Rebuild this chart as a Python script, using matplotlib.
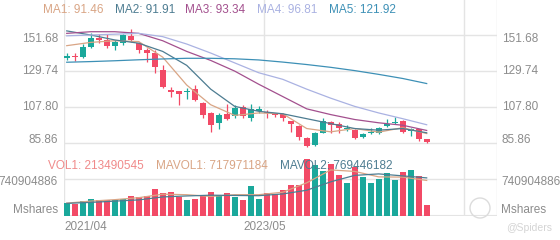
import matplotlib
matplotlib.use('Agg')
import matplotlib.pyplot as plt
import matplotlib.transforms as mtransforms
from matplotlib.patches import Ellipse
import numpy as np

plt.rcParams['font.family'] = ['Liberation Sans', 'DejaVu Sans']

# monthly candles 2021/04 .. 2025/01
opens = [137.5, 138.3, 138.3, 144.4, 149.4, 148.6, 145.0, 146.4, 150.9, 146.4,
         142.3, 140.3, 130.1, 118.0, 117.4, 116.5, 118.6, 110.2, 103.7, 97.6,
         103.1, 102.3, 107.8, 101.1, 105.4, 104.6, 103.7, 103.1, 99.1, 96.0,
         88.5, 84.2, 92.0, 98.3, 97.2, 94.2, 93.6, 89.1, 91.5, 91.5,
         96.2, 97.6, 99.3, 93.2, 94.0, 87.9]
highs = [140.3, 140.3, 145.8, 152.5, 151.9, 151.9, 148.4, 151.9, 155.1, 147.4,
         143.4, 142.3, 133.2, 120.0, 117.6, 119.4, 121.0, 110.4, 104.3, 103.7,
         109.2, 108.8, 108.8, 109.3, 108.2, 105.8, 104.1, 103.7, 99.3, 96.4,
         89.1, 92.6, 100.7, 99.3, 98.3, 96.6, 94.0, 91.5, 94.6, 95.2,
         100.1, 101.3, 99.7, 94.6, 94.4, 88.3]
lows = [136.2, 135.8, 137.7, 143.8, 146.4, 143.8, 142.3, 145.4, 147.4, 140.3,
        134.8, 128.1, 119.0, 113.9, 108.8, 112.5, 111.3, 101.1, 92.2, 94.2,
        99.7, 101.1, 101.1, 99.3, 104.1, 100.7, 101.3, 99.3, 92.6, 87.5,
        83.4, 83.8, 91.6, 92.0, 92.0, 93.2, 88.1, 88.5, 91.1, 90.9,
        95.6, 97.4, 91.5, 89.9, 87.1, 85.9]
closes = [138.7, 138.1, 144.4, 149.9, 148.6, 145.0, 147.4, 151.5, 148.4, 142.3,
          140.3, 132.2, 120.0, 117.0, 115.3, 117.4, 111.9, 102.7, 96.6, 102.7,
          100.1, 107.2, 102.3, 106.2, 106.2, 103.7, 102.9, 100.7, 97.0, 89.5,
          83.8, 92.0, 99.3, 96.8, 94.6, 95.0, 88.5, 90.9, 92.6, 94.6,
          97.0, 98.1, 92.6, 94.0, 87.9, 86.3]
# volume in millions of shares
volumes = [257, 243, 310, 350, 324, 324, 324, 338, 404, 390,
           404, 539, 471, 485, 390, 324, 338, 404, 485, 431,
           458, 390, 324, 606, 350, 471, 444, 525, 633, 633,
           1145, 1037, 902, 1050, 835, 660, 984, 781, 660, 754,
           862, 727, 889, 929, 808, 213.490545]

# moving average lines, read every third candle
ma_idx = [0, 3, 6, 9, 12, 15, 18, 21, 24, 27, 30, 33, 36, 39, 42, 45]
ma1 = [145.0, 147.0, 148.0, 147.5, 138.0, 121.0, 109.0, 102.5, 104.0, 103.5,
       94.5, 92.5, 94.5, 92.3, 95.0, 91.46]
ma2 = [154.0, 151.5, 148.5, 146.5, 141.5, 133.0, 118.5, 108.0, 105.0, 103.5,
       100.5, 97.5, 94.5, 93.5, 94.5, 91.91]
ma3 = [152.5, 153.5, 153.5, 152.5, 148.0, 141.5, 136.0, 129.5, 121.5, 114.0,
       106.5, 103.0, 100.0, 98.0, 96.5, 93.34]
ma4 = [151.0, 151.5, 152.0, 152.5, 150.5, 146.0, 140.5, 134.5, 128.5, 124.5,
       118.5, 113.0, 108.0, 104.0, 100.5, 96.81]
ma5 = [134.9, 135.3, 135.8, 136.4, 136.9, 137.3, 137.3, 137.0, 136.3, 135.0,
       133.5, 131.8, 129.8, 127.5, 125.0, 121.92]
mavol1 = [260, 300, 330, 370, 440, 430, 395, 430, 430, 480,
          670, 930, 900, 790, 785, 717.971184]
mavol2 = [255, 275, 300, 325, 385, 405, 420, 415, 410, 445,
          520, 690, 820, 850, 810, 769.446182]

price_ticks = [151.68, 129.74, 107.80, 85.86]
vol_tick = 740.904886
date_labels = ['2021/04', '2023/05']
date_idx = [0, 25, 50]

UP = '#1aa89b'
DOWN = '#f24a66'
C_MA = ['#d9a585', '#4d7c91', '#a3508e', '#aab2e2', '#3d90b6']
GRID = '#e4e4e4'
TXT = '#8c8c8c'

W, H = 560, 240
fig = plt.figure(figsize=(W / 100, H / 100), dpi=100)


def box(l, t, r, b):
    return [l / W, 1 - b / H, (r - l) / W, (b - t) / H]


ax = fig.add_axes(box(64, 0, 497, 155))
axv = fig.add_axes(box(64, 155, 497, 216))
x = np.arange(len(closes))
xlim = (-0.34, 53.79)

for a in (ax, axv):
    a.set_xlim(*xlim)
    a.set_xticks([])
    a.set_yticks([])
    for s in a.spines.values():
        s.set_visible(False)
    for d in date_idx:
        a.axvline(d - 0.34, color=GRID, lw=1, zorder=0)
    a.axvline(xlim[1] - 0.05, color=GRID, lw=1, zorder=0)
    a.patch.set_alpha(0)

ax.set_ylim(78.37, 172.83)
axv.set_ylim(0, 1231.5)

for p in price_ticks:
    ax.axhline(p, color=GRID, lw=1, zorder=0)
axv.axhline(vol_tick, color=GRID, lw=1, zorder=0)
axv.axhline(0, color=GRID, lw=1.5, zorder=0)

o = np.array(opens)
c = np.array(closes)
cols = [UP if cc >= oo else DOWN for oo, cc in zip(o, c)]
ax.vlines(x, lows, highs, colors=cols, lw=0.9, zorder=2)
body = np.maximum(np.abs(c - o), 0.6)
ax.bar(x, body, bottom=np.minimum(o, c), width=0.75, color=cols, zorder=3)

for vals, col in zip([ma1, ma2, ma3, ma4, ma5], C_MA):
    ax.plot(ma_idx, vals, color=col, lw=0.9, zorder=4)

axv.bar(x, volumes, width=0.75, color=cols, zorder=2)
axv.plot(ma_idx, mavol1, color=C_MA[0], lw=0.9, zorder=3)
axv.plot(ma_idx, mavol2, color=C_MA[1], lw=0.9, zorder=3)

fs = 8.5
# price axis labels on both sides
offs = [-4, 0, 0, 3]
for p, dy in zip(price_ticks, offs):
    for xf, ha in ((58 / W, 'right'), (502 / W, 'left')):
        tr = mtransforms.blended_transform_factory(fig.transFigure, ax.transData)
        tr = mtransforms.offset_copy(tr, fig=fig, y=dy, units='dots')
        fig.text(xf, p, f'{p:.2f}', transform=tr, ha=ha, va='center',
                 fontsize=fs, color=TXT)
for xf, ha in ((58 / W, 'right'), (501 / W, 'left')):
    tr = mtransforms.blended_transform_factory(fig.transFigure, axv.transData)
    tr = mtransforms.offset_copy(tr, fig=fig, y=-3, units='dots')
    fig.text(xf, vol_tick, f'{round(vol_tick * 1e6)}', transform=tr, ha=ha,
             va='center', fontsize=fs, color=TXT)
    fig.text(xf, 1 - 210 / H, 'Mshares', ha=ha, va='center', fontsize=fs,
             color=TXT)

# date labels
for i, (lab, d) in enumerate(zip(date_labels, date_idx)):
    tr = mtransforms.blended_transform_factory(axv.transData, fig.transFigure)
    fig.text(d - 0.34 if i == 0 else d - 0.2, 1 - 227 / H, lab, transform=tr,
             ha='left' if i == 0 else 'center', va='center', fontsize=fs,
             color=TXT)

# legends
leg = [(f'MA1: {ma1[-1]:.2f}', 43, C_MA[0]), (f'MA2: {ma2[-1]:.2f}', 115, C_MA[1]),
       (f'MA3: {ma3[-1]:.2f}', 185, C_MA[2]), (f'MA4: {ma4[-1]:.2f}', 257, C_MA[3]),
       (f'MA5: {ma5[-1]:.2f}', 329, C_MA[4])]
for s, px, col in leg:
    fig.text(px / W, 1 - 10 / H, s, ha='left', va='center', fontsize=fs, color=col)
vleg = [(f'VOL1: {round(volumes[-1] * 1e6)}', 48, '#f08a8a'),
        (f'MAVOL1: {round(mavol1[-1] * 1e6)}', 156, C_MA[0]),
        (f'MAVOL2: {round(mavol2[-1] * 1e6)}', 280, C_MA[1])]
for s, px, col in vleg:
    fig.text(px / W, 1 - 166 / H, s, ha='left', va='center', fontsize=fs,
             color=col, zorder=10)

# watermark
fig.text(506 / W, 1 - 228 / H, '@Spiders', ha='left', va='center', fontsize=7.5,
         color='#d4d4d4')
circ = Ellipse((480 / W, 1 - 208 / H), 20 / W, 20 / H, transform=fig.transFigure,
               fill=False, ec='#dcdcdc', lw=1)
fig.patches.append(circ)

fig.savefig('out.png', dpi=100)
